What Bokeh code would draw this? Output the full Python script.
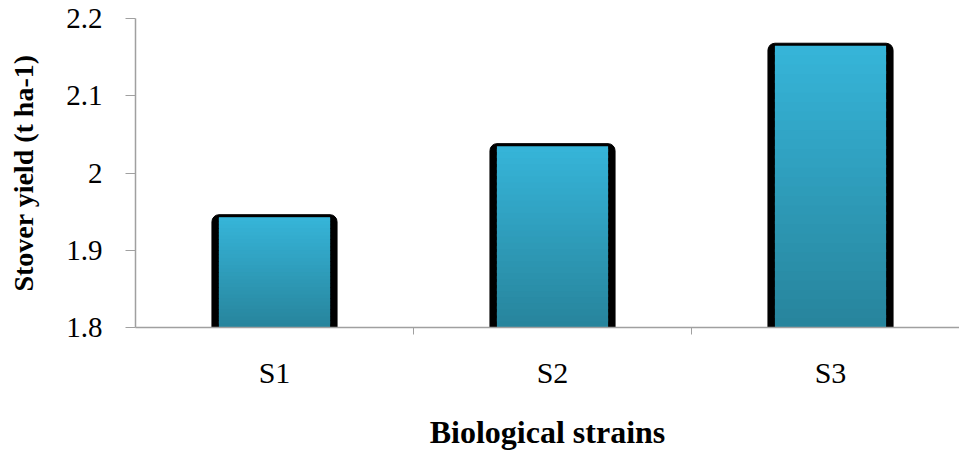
import numpy as np
from bokeh.plotting import figure
from bokeh.models import FixedTicker, Range1d, ColumnDataSource
from bokeh.embed import file_html
from bokeh.resources import INLINE

# ---- data ----
categories = ["S1", "S2", "S3"]
stover_yield = [1.946, 2.038, 2.168]
y_ticks = [1.8, 1.9, 2.0, 2.1, 2.2]
y_tick_labels = ["1.8", "1.9", "2", "2.1", "2.2"]
y_min, y_max = 1.8, 2.2

x_pos = [i + 1 for i in range(len(categories))]

p = figure(width=959, height=452, output_backend="svg", toolbar_location=None,
           x_range=Range1d(0.5, 3.464), y_range=Range1d(y_min, y_max),
           min_border_left=135, min_border_right=0, min_border_top=18,
           min_border_bottom=125, outline_line_color=None)
p.xgrid.visible = False
p.ygrid.visible = False
p.background_fill_color = "white"
p.border_fill_color = "white"

# outer black bar (rounded top corners)
src = ColumnDataSource(dict(x=x_pos, top=stover_yield))
p.vbar(x="x", top="top", bottom=y_min, width=0.45, source=src,
       fill_color="black", line_color="black", line_width=1,
       border_radius=(7, 7, 0, 0))

# inner gradient fill (styling only: strips computed from each bar's value)
top_col = np.array([0x36, 0xb5, 0xd9])
bot_col = np.array([0x27, 0x84, 0x9c])
n = 30
xs, bots, tops, cols = [], [], [], []
for xv, v in zip(x_pos, stover_yield):
    inner_top = v - 2.5 / 772.5
    edges = np.linspace(y_min, inner_top, n + 1)
    for k in range(n):
        t = (k + 0.5) / n  # 0 bottom -> 1 top
        c = (bot_col + (top_col - bot_col) * t).round().astype(int)
        xs.append(xv)
        bots.append(edges[k])
        tops.append(min(edges[k + 1] + 0.004, inner_top))
        cols.append("#%02x%02x%02x" % tuple(c))
p.vbar(x=xs, bottom=bots, top=tops, width=0.40, fill_color=cols, line_color=None)

# x axis
xa = p.xaxis[0]
xa.ticker = FixedTicker(ticks=x_pos, minor_ticks=[1.5, 2.5])
xa.major_label_overrides = {x: c for x, c in zip(x_pos, categories)}
xa.major_tick_out = 0
xa.major_tick_in = 0
xa.minor_tick_out = 7
xa.minor_tick_in = 0
xa.minor_tick_line_color = "#a0a0a0"
xa.axis_line_color = "#a0a0a0"
xa.axis_line_width = 1.5
xa.major_label_text_font = "Liberation Serif"
xa.major_label_text_font_size = "30px"
xa.major_label_text_color = "black"
xa.major_label_standoff = 21
xa.axis_label = "Biological strains"
xa.axis_label_text_font = "Liberation Serif"
xa.axis_label_text_font_style = "bold"
xa.axis_label_text_font_size = "32px"
xa.axis_label_text_color = "black"
xa.axis_label_standoff = 22

# y axis
ya = p.yaxis[0]
ya.ticker = FixedTicker(ticks=y_ticks, minor_ticks=[])
ya.major_label_overrides = {t: l for t, l in zip(y_ticks, y_tick_labels)}
ya.major_tick_out = 10
ya.major_tick_in = 0
ya.major_tick_line_color = "#a0a0a0"
ya.axis_line_color = "#a0a0a0"
ya.axis_line_width = 1.5
ya.major_label_text_font = "Liberation Serif"
ya.major_label_text_font_size = "29px"
ya.major_label_text_color = "black"
ya.major_label_standoff = 23
ya.axis_label = "Stover yield (t ha-1)"
ya.axis_label_text_font = "Liberation Serif"
ya.axis_label_text_font_style = "bold"
ya.axis_label_text_font_size = "28px"
ya.axis_label_text_color = "black"
ya.axis_label_standoff = 24

open("out.html", "w").write(file_html(p, INLINE))
